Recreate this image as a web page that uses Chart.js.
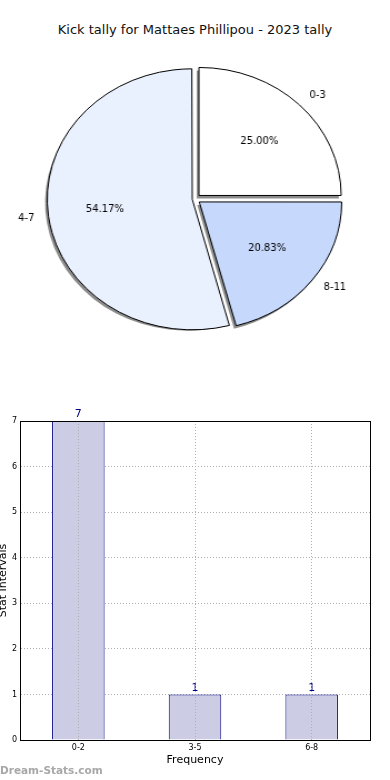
<!DOCTYPE html>
<html>
<head>
<meta charset="utf-8">
<script src="https://cdn.jsdelivr.net/npm/chart.js@4"></script>
<style>
  body { margin: 0; width: 390px; height: 780px; background: #fff; position: relative; overflow: hidden; font-family: 'DejaVu Sans', sans-serif; }
  #title { position: absolute; top: 22px; left: 0; width: 390px; line-height: 16px; text-align: center; font-size: 13px; color: #111; }
  #pie-chart { position: absolute; top: 0; left: 0; }
  #bar-chart { position: absolute; top: 400px; left: 0; }
  #watermark { position: absolute; left: 0; top: 764px; font-size: 10.5px; font-weight: bold; color: #a8a8a8; }
</style>
</head>
<body>
<div id="title">Kick tally for Mattaes Phillipou - 2023 tally</div>
<!-- pie is drawn narrower and stretched sideways, the original pie is an ellipse -->
<canvas id="pie-chart" width="351" height="398" style="width:390px;height:398px"></canvas>
<canvas id="bar-chart" width="390" height="380" style="width:390px;height:380px"></canvas>
<div id="watermark">Dream-Stats.com</div>
<script>
// pie: kick ranges, in drawing order (clockwise from the top)
var pieCategories = ['0-3', '8-11', '4-7'];
var pieValues = [6, 5, 13];
var pieColors = ['#ffffff', '#c6d9fd', '#eaf1fe'];

// bars
var barCategories = ['0-2', '3-5', '6-8'];
var barValues = [7, 1, 1];
var yTicks = [0, 1, 2, 3, 4, 5, 6, 7];

var STRETCH = 390 / 351;
var EXPLODE = 5;
var RADIUS = 128;

// chart.js moves an arc by offset/4 (twice that for arcs over half a turn)
function arcOffsets(values) {
  var total = values.reduce(function (a, b) { return a + b; }, 0);
  return values.map(function (v) {
    var circ = 2 * Math.PI * v / total;
    var fix = 1 - Math.sin(Math.min(Math.PI, circ));
    return 4 * EXPLODE / (1 + fix);
  });
}

function drawText(ctx, text, x, y, align) {
  ctx.save();
  ctx.translate(x, y);
  ctx.scale(1 / STRETCH, 1);
  ctx.textAlign = align;
  ctx.fillText(text, 0, 0);
  ctx.restore();
}

var pieShadow = {
  id: 'pieShadow',
  beforeDatasetsDraw: function (chart) {
    var ctx = chart.ctx;
    ctx.save();
    ctx.translate(-2, 3);
    ctx.fillStyle = 'rgba(0,0,0,0.45)';
    chart.getDatasetMeta(0).data.forEach(function (arc) {
      var mid = (arc.startAngle + arc.endAngle) / 2;
      var cx = arc.x + Math.cos(mid) * EXPLODE;
      var cy = arc.y + Math.sin(mid) * EXPLODE;
      ctx.beginPath();
      ctx.moveTo(cx, cy);
      ctx.arc(cx, cy, arc.outerRadius, arc.startAngle, arc.endAngle);
      ctx.closePath();
      ctx.fill();
    });
    ctx.restore();
  }
};

var pieText = {
  id: 'pieText',
  afterDatasetsDraw: function (chart) {
    var ctx = chart.ctx;
    var total = pieValues.reduce(function (a, b) { return a + b; }, 0);
    ctx.save();
    ctx.font = '10px "DejaVu Sans"';
    ctx.fillStyle = '#000';
    ctx.textBaseline = 'middle';
    chart.getDatasetMeta(0).data.forEach(function (arc, i) {
      var mid = (arc.startAngle + arc.endAngle) / 2;
      var r = arc.outerRadius;
      var c = Math.cos(mid), s = Math.sin(mid);
      var pd = EXPLODE + 0.6 * r;
      var ld = EXPLODE + 1.1 * r;
      drawText(ctx, (100 * pieValues[i] / total).toFixed(2) + '%', arc.x + c * pd, arc.y + s * pd, 'center');
      drawText(ctx, pieCategories[i], arc.x + c * ld, arc.y + s * ld, c < 0 ? 'right' : 'left');
    });
    ctx.restore();
  }
};

new Chart(document.getElementById('pie-chart'), {
  type: 'pie',
  data: {
    labels: pieCategories,
    datasets: [{
      data: pieValues,
      backgroundColor: pieColors,
      borderColor: '#000',
      borderWidth: 1,
      borderJoinStyle: 'miter',
      offset: arcOffsets(pieValues),
      radius: RADIUS
    }]
  },
  options: {
    responsive: false,
    animation: false,
    events: [],
    layout: { padding: 0 },
    plugins: { legend: { display: false }, tooltip: { enabled: false } }
  },
  plugins: [pieShadow, pieText]
});

var barValueText = {
  id: 'barValueText',
  afterDatasetsDraw: function (chart) {
    var ctx = chart.ctx;
    ctx.save();
    ctx.font = '11px "DejaVu Sans"';
    ctx.fillStyle = '#00007f';
    ctx.textAlign = 'center';
    ctx.textBaseline = 'bottom';
    chart.getDatasetMeta(0).data.forEach(function (bar, i) {
      ctx.fillText(String(barValues[i]), bar.x, bar.y - 1);
    });
    ctx.restore();
  }
};

var frame = {
  id: 'frame',
  afterDraw: function (chart) {
    var a = chart.chartArea;
    var ctx = chart.ctx;
    ctx.save();
    ctx.strokeStyle = '#000';
    ctx.lineWidth = 1;
    ctx.strokeRect(Math.round(a.left) + 0.5, Math.round(a.top) + 0.5, Math.round(a.right - a.left), Math.round(a.bottom - a.top));
    ctx.restore();
  }
};

new Chart(document.getElementById('bar-chart'), {
  type: 'bar',
  data: {
    labels: barCategories,
    datasets: [{
      data: barValues,
      backgroundColor: '#cccce5',
      borderColor: '#00007f',
      borderWidth: 1,
      barPercentage: 0.45,
      categoryPercentage: 1
    }]
  },
  options: {
    responsive: false,
    animation: false,
    events: [],
    layout: { padding: { top: 21, right: 20, left: 0, bottom: 0 } },
    plugins: { legend: { display: false }, tooltip: { enabled: false } },
    scales: {
      x: {
        afterFit: function (s) { s.height = 40; },
        grid: { offset: false, color: '#b0b0b0', drawTicks: false, z: 1 },
        // border drawn after the grid layer, the frame plugin gives the solid edge
        border: { color: '#000', dash: [1, 2], z: 2 },
        ticks: { color: '#000', font: { size: 8, family: 'DejaVu Sans' }, padding: 3, maxRotation: 0 },
        title: { display: true, text: 'Frequency', color: '#000', font: { size: 11, family: 'DejaVu Sans' }, padding: { top: 0, bottom: 13 } }
      },
      y: {
        min: yTicks[0],
        max: yTicks[yTicks.length - 1],
        afterFit: function (s) { s.width = 20; },
        afterBuildTicks: function (s) { s.ticks = yTicks.map(function (v) { return { value: v }; }); },
        grid: { color: '#b0b0b0', drawTicks: false },
        border: { color: '#000', dash: [1, 2] },
        ticks: { color: '#000', font: { size: 8, family: 'DejaVu Sans' }, padding: 3 },
        title: { display: true, text: 'Stat Intervals', color: '#000', font: { size: 11, family: 'DejaVu Sans' }, padding: { top: -3, bottom: 0 } }
      }
    }
  },
  plugins: [barValueText, frame]
});
</script>
</body>
</html>
